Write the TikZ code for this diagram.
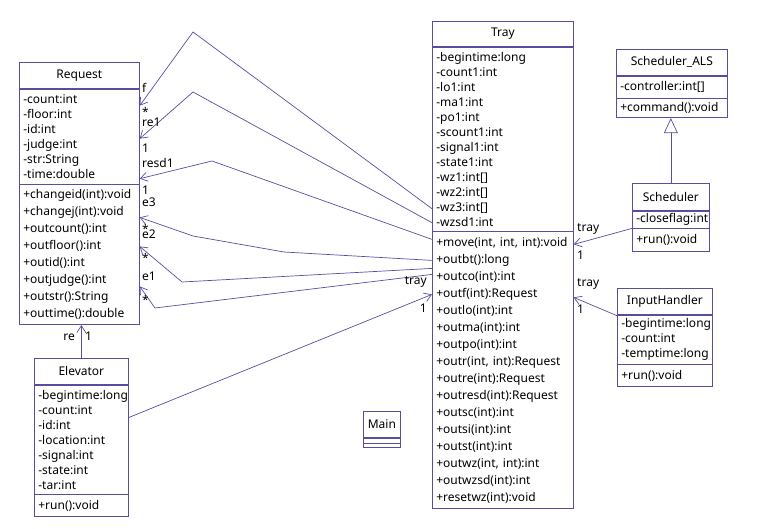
\documentclass[tikz,border=0pt]{standalone}
\usepackage{fontspec}
\setmainfont{Noto Sans}
\usetikzlibrary{arrows.meta}
\definecolor{umlline}{RGB}{88,78,160}
\hyphenpenalty=10000
\exhyphenpenalty=10000

\begin{document}
\begin{tikzpicture}
  [x=1pt,y=-1pt,
   every node/.style={font=\fontsize{12}{15}\selectfont},
   head/.style={draw=umlline,line width=.7pt,fill=white,inner sep=0pt,anchor=north west,minimum height=26pt},
   part/.style={draw=umlline,line width=.7pt,fill=white,inner xsep=4pt,inner ysep=0pt,anchor=north west,align=left},
   wide/.style={font=\fontsize{12}{17}\selectfont},
   lbl/.style={inner sep=0pt,anchor=base west},
   assoc/.style={draw=umlline,line width=.7pt,-{Straight Barb[length=7pt,width=9pt]}}]
  \useasboundingbox (0,0) rectangle (757,529);

  % Request
  \node[head,minimum width=120pt] (reqT) at (19,62) {Request};
  \node[part,text width=112pt,minimum height=95pt] (reqA) at (reqT.south west)
    {-count:int\\-floor:int\\-id:int\\-judge:int\\-str:String\\-time:double};
  \node[part,wide,text width=112pt,minimum height=140pt] (reqM) at (reqA.south west)
    {+changeid(int):void\\+changej(int):void\\+outcount():int\\+outfloor():int\\+outid():int\\+outjudge():int\\+outstr():String\\+outtime():double};

  % Tray
  \node[head,minimum width=141pt,minimum height=25pt] (trayT) at (432,21) {Tray};
  \node[part,text width=133pt,minimum height=184pt] (trayA) at (trayT.south west)
    {-begintime:long\\-count1:int\\-lo1:int\\-ma1:int\\-po1:int\\-scount1:int\\-signal1:int\\-state1:int\\-wz1:int[]\\-wz2:int[]\\-wz3:int[]\\-wzsd1:int};
  \node[part,wide,text width=133pt,minimum height=277pt] (trayM) at (trayA.south west)
    {+move(int, int, int):void\\+outbt():long\\+outco(int):int\\+outf(int):Request\\+outlo(int):int\\+outma(int):int\\+outpo(int):int\\+outr(int, int):Request\\+outre(int):Request\\+outresd(int):Request\\+outsc(int):int\\+outsi(int):int\\+outst(int):int\\+outwz(int, int):int\\+outwzsd(int):int\\+resetwz(int):void};

  % Scheduler_ALS
  \node[head,minimum width=111pt] (alsT) at (616,49) {Scheduler\_ALS};
  \node[part,text width=103pt,minimum height=22pt] (alsA) at (alsT.south west) {-controller:int[]};
  \node[part,text width=103pt,minimum height=19pt] (alsM) at (alsA.south west) {+command():void};

  % Scheduler
  \node[head,minimum width=77pt,minimum height=27pt] (schT) at (632,183) {Scheduler};
  \node[part,text width=69pt,minimum height=17pt] (schA) at (schT.south west) {-closeflag:int};
  \node[part,text width=69pt,minimum height=23pt] (schM) at (schA.south west) {+run():void};

  % InputHandler
  \node[head,minimum width=95pt] (ihT) at (617,288) {InputHandler};
  \node[part,text width=87pt,minimum height=49pt] (ihA) at (ihT.south west)
    {-begintime:long\\-count:int\\-temptime:long};
  \node[part,text width=87pt,minimum height=22pt] (ihM) at (ihA.south west) {+run():void};

  % Elevator
  \node[head,minimum width=94pt] (elvT) at (34,358) {Elevator};
  \node[part,text width=86pt,minimum height=109pt] (elvA) at (elvT.south west)
    {-begintime:long\\-count:int\\-id:int\\-location:int\\-signal:int\\-state:int\\-tar:int};
  \node[part,text width=86pt,minimum height=22pt] (elvM) at (elvA.south west) {+run():void};

  % Main
  \node[head,minimum width=37pt] (mainT) at (363,411) {Main};
  \node[part,text width=29pt,minimum height=5pt] (mainA) at (mainT.south west) {};
  \node[part,text width=29pt,minimum height=4pt] (mainM) at (mainA.south west) {};

  % end points and bends of the Tray -> Request links
  \coordinate (fs) at ([yshift=-162pt]trayA.north west);
  \coordinate (re1s) at ([yshift=-176pt]trayA.north west);
  \coordinate (resd1s) at ([yshift=-8pt]trayM.north west);
  \coordinate (e3s) at ([yshift=-29pt]trayM.north west);
  \coordinate (e2s) at ([yshift=-37pt]trayM.north west);
  \coordinate (e1s) at ([yshift=-43pt]trayM.north west);
  \coordinate (fe) at ([yshift=-17pt]reqA.north east);
  \coordinate (re1e) at ([yshift=-50pt]reqA.north east);
  \coordinate (resd1e) at ([yshift=-90pt]reqA.north east);
  \coordinate (e3e) at ([yshift=-33pt]reqM.north east);
  \coordinate (e2e) at ([yshift=-62pt]reqM.north east);
  \coordinate (e1e) at ([yshift=-102pt]reqM.north east);
  \coordinate (fb) at (193,32);
  \coordinate (re1b) at (193,92);
  \coordinate (resd1b) at (212,161);
  \coordinate (e3a) at (284,252);
  \coordinate (e3b) at (193,236);
  \coordinate (e2b) at (182,282);
  \coordinate (e1b) at (155,308);

  \draw[assoc] (fs) -- (fb) -- (fe);
  \draw[assoc] (re1s) -- (re1b) -- (re1e);
  \draw[assoc] (resd1s) -- (resd1b) -- (resd1e);
  \draw[assoc] (e3s) -- (e3a) -- (e3b) -- (e3e);
  \draw[assoc] (e2s) -- (e2b) -- (e2e);
  \draw[assoc] (e1s) -- (e1b) -- (e1e);

  \node[lbl] (lf) at (142,93) {f};
  \node[lbl] (lfm) at (142,117) {*};
  \node[lbl] (lre1) at (142,127) {re1};
  \node[lbl] (lre1m) at (142,153) {1};
  \node[lbl] (lresd1) at (142,168) {resd1};
  \node[lbl] (lresd1m) at (142,195) {1};
  \node[lbl] (le3) at (142,207) {e3};
  \node[lbl] (le3m) at (142,234) {*};
  \node[lbl] (le2) at (142,239) {e2};
  \node[lbl] (le2m) at (142,262) {*};
  \node[lbl] (le1) at (142,280) {e1};
  \node[lbl] (le1m) at (142,304) {*};

  % Elevator links
  \draw[assoc] (elvT.north) -- (elvT.north |- reqM.south);
  \node[lbl,anchor=base east] (lre) at (75,340) {re};
  \node[lbl] (lrem) at (85,340) {1};
  \coordinate (elvs) at ([yshift=22pt]elvA.east);
  \coordinate (elve) at ([yshift=-63pt]trayM.north west);
  \draw[assoc] (elvs) -- (elve);
  \node[lbl,anchor=base east] (lelv) at (427,284) {tray};
  \node[lbl,anchor=base east] (lelvm) at (427,312) {1};

  % Scheduler and InputHandler links
  \draw[draw=umlline,line width=.7pt,-{Triangle[open,length=15pt,width=14pt]}]
    (schT.north) -- (schT.north |- alsM.south);
  \draw[assoc] (schA.south west) -- ([yshift=-13pt]trayM.north east);
  \node[lbl] (lsch) at (577,232) {tray};
  \node[lbl] (lschm) at (577,259) {1};
  \draw[assoc] ([yshift=-1pt]ihA.north west) -- ([yshift=-66pt]trayM.north east);
  \node[lbl] (lih) at (577,286) {tray};
  \node[lbl] (lihm) at (577,313) {1};
\end{tikzpicture}
\end{document}
